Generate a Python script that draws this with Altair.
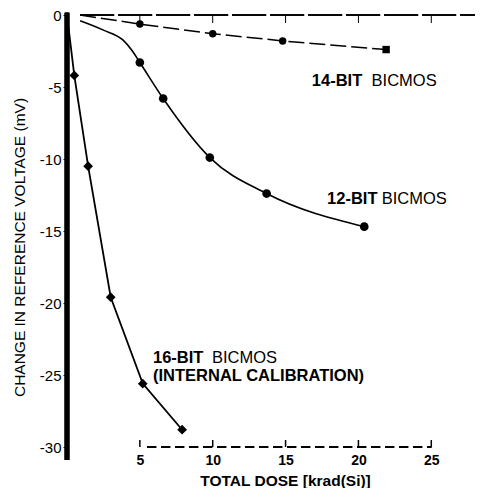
import altair as alt
import pandas as pd

# ---- data ----
# 16-BIT BICMOS (internal calibration): diamonds, straight segments
dose16 = [0.0, 0.5, 1.45, 3.0, 5.2, 7.9]
volt16 = [0.0, -4.2, -10.5, -19.6, -25.6, -28.8]
mark16 = [False, True, True, True, True, True]

# 12-BIT BICMOS: filled circles, smooth curve
dose12 = [0.9, 2.5, 3.85, 4.45, 5.0, 6.6, 9.8, 13.7, 20.4]
volt12 = [-0.4, -1.05, -1.75, -2.45, -3.3, -5.8, -9.9, -12.4, -14.7]
mark12 = [False, False, False, False, True, True, True, True, True]

# 14-BIT BICMOS: dashed line
dose14 = [0.9, 5.0, 10.0, 14.8, 21.9]
volt14 = [0.0, -0.63, -1.3, -1.8, -2.4]
shape14 = ["none", "circle", "circle", "circle", "square"]

x_ticks = [5, 10, 15, 20, 25]
y_ticks = [0, -5, -10, -15, -20, -25, -30]

ann_bold = ["14-BIT", "12-BIT", "16-BIT", "(INTERNAL  CALIBRATION)"]
ann_x = [16.8, 17.85, 5.9, 5.9]
ann_y = [-4.6, -12.8, -23.8, -25.1]
ann_rest = ["BICMOS", "BICMOS", "BICMOS"]
ann_rest_x = [20.9, 21.6, 9.95]
ann_rest_y = [-4.6, -12.8, -23.8]

FONT = "Liberation Sans"

df16 = pd.DataFrame({"x": dose16, "y": volt16, "m": mark16})
df12 = pd.DataFrame({"x": dose12, "y": volt12, "m": mark12})
df14 = pd.DataFrame({"x": dose14, "y": volt14, "s": shape14})
dticks = pd.DataFrame({"x": x_ticks})
dann = pd.DataFrame({"t": ann_bold, "x": ann_x, "y": ann_y})
dann2 = pd.DataFrame({"t": ann_rest, "x": ann_rest_x, "y": ann_rest_y})

xscale = alt.Scale(domain=[0, 28], nice=False, zero=False)
yscale = alt.Scale(domain=[-30, 0], nice=False, zero=False)

xaxis = alt.Axis(values=x_ticks, domain=False, ticks=False, grid=False,
                 labelPadding=6, labelFontSize=14, labelFontWeight="bold",
                 labelFont=FONT, labelColor="black",
                 title="TOTAL  DOSE  [krad(Si)]", titleFont=FONT,
                 titleFontSize=15.5, titleFontWeight="bold", titleColor="black",
                 titleX=218, titleY=33, titleBaseline="middle", titleAlign="center")
yaxis = alt.Axis(values=y_ticks, domain=False, grid=False, tickSize=4,
                 tickColor="black", labelPadding=2, labelFontSize=15,
                 labelFont=FONT, labelColor="black",
                 labelExpr="toString(datum.value)",
                 title="CHANGE IN REFERENCE VOLTAGE (mV)", titleFont=FONT,
                 titleFontSize=15.5, titleFontWeight="normal", titleColor="black",
                 titleX=-48, titleY=232, titleAngle=270, titleBaseline="middle",
                 titleAlign="center")


def X(f="x:Q"):
    return alt.X(f, scale=xscale, axis=xaxis)


def Y(f="y:Q"):
    return alt.Y(f, scale=yscale, axis=yaxis)


# frame pieces
left_axis = alt.Chart(dticks).mark_rule(color="black", strokeWidth=4.5, strokeCap="butt").encode(
    x=alt.datum(0), y=alt.datum(0.15), y2=alt.datum(-30.9))
top_line = alt.Chart(dticks).mark_rule(color="black", strokeWidth=1, strokeDash=[34, 4]).encode(
    x=alt.datum(0.9), x2=alt.datum(28), y=alt.datum(0))
top_ticks = alt.Chart(dticks).mark_rule(color="black", strokeWidth=1).encode(
    x=X(), y=alt.value(1), y2=alt.value(8))
bot_line = alt.Chart(dticks).mark_rule(color="black", strokeWidth=1.5, strokeDash=[9, 5]).encode(
    x=alt.datum(5.5), x2=alt.datum(25), y=alt.datum(-30))
bot_ticks = alt.Chart(dticks).mark_rule(color="black", strokeWidth=1.5).encode(
    x=X(), y=alt.value(425), y2=alt.value(432))

# series
l16 = alt.Chart(df16).mark_line(color="black", strokeWidth=1.8).encode(x=X(), y=Y())
p16 = alt.Chart(df16).transform_filter("datum.m").mark_point(
    shape="diamond", filled=True, color="black", size=95, opacity=1).encode(x=X(), y=Y())

l12 = alt.Chart(df12).mark_line(color="black", strokeWidth=1.6, interpolate="monotone").encode(x=X(), y=Y())
p12 = alt.Chart(df12).transform_filter("datum.m").mark_point(
    shape="circle", filled=True, color="black", size=75, opacity=1).encode(x=X(), y=Y())

l14 = alt.Chart(df14).mark_line(color="black", strokeWidth=1.5, strokeDash=[16, 5]).encode(x=X(), y=Y())
p14c = alt.Chart(df14).transform_filter("datum.s == 'circle'").mark_point(
    shape="circle", filled=True, color="black", size=55, opacity=1).encode(x=X(), y=Y())
p14s = alt.Chart(df14).transform_filter("datum.s == 'square'").mark_point(
    shape="square", filled=True, color="black", size=55, opacity=1).encode(x=X(), y=Y())

# annotations
t_bold = alt.Chart(dann).mark_text(align="left", baseline="middle", font=FONT, fontSize=16.5,
                                   fontWeight="bold", color="black").encode(x=X(), y=Y(), text="t:N")
t_rest = alt.Chart(dann2).mark_text(align="left", baseline="middle", font=FONT, fontSize=16.5,
                                    fontWeight="normal", color="black").encode(x=X(), y=Y(), text="t:N")

chart = alt.layer(
    top_line, top_ticks, bot_line, bot_ticks,
    l16, l12, l14, p16, p12, p14c, p14s, t_bold, t_rest, left_axis,
).properties(
    width=408, height=432, autosize="none",
    padding={"left": 67, "top": 15, "right": 23, "bottom": 41},
    background="white",
).configure_view(stroke=None)

chart.save("out.html", embed_options={"renderer": "svg", "actions": False})
